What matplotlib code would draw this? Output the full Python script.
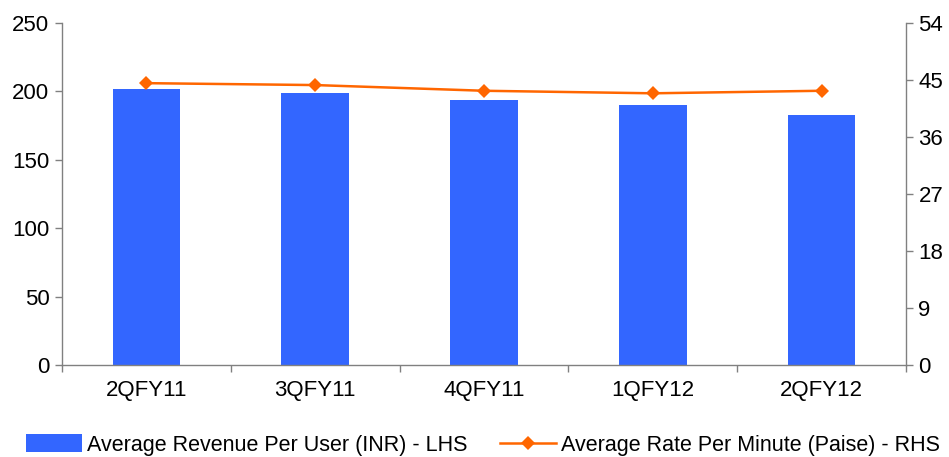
import matplotlib
matplotlib.use("Agg")
import matplotlib.pyplot as plt
import numpy as np

plt.rcParams["font.family"] = ["Liberation Sans", "DejaVu Sans"]

quarters = ["2QFY11", "3QFY11", "4QFY11", "1QFY12", "2QFY12"]
arpu_inr = [202, 199, 194, 190, 183]
rate_paise = [44.5, 44.2, 43.3, 42.9, 43.3]

bar_color = "#3366FF"
line_color = "#FF6600"
axis_color = "#808080"
fs = 16
fs_leg = 15.5

fig = plt.figure(figsize=(9.49, 4.57), dpi=100)
W, H = 949, 457
ax = fig.add_axes([62 / W, (H - 365) / H, (906 - 62) / W, (365 - 23) / H])

x = np.arange(len(quarters))
bars = ax.bar(x, arpu_inr, width=0.40, color=bar_color, zorder=2,
              label="Average Revenue Per User (INR) - LHS")
ax.set_xlim(-0.5, len(quarters) - 0.5)
ax.set_ylim(0, 250)
ax.set_yticks(np.arange(0, 251, 50))
ax.set_xticks(x)
ax.set_xticklabels(quarters, fontsize=fs)
ax.set_xticks(np.arange(-0.5, len(quarters), 1.0), minor=True)
ax.tick_params(axis="x", which="major", length=0, pad=11)
ax.tick_params(axis="x", which="minor", length=5, width=1, color=axis_color, direction="out")
ax.tick_params(axis="y", length=5, width=1, color=axis_color, labelsize=fs, pad=4)

ax2 = ax.twinx()
line, = ax2.plot(x, rate_paise, color=line_color, lw=1.8, marker="D",
                 markersize=7, markeredgewidth=0, zorder=3,
                 label="Average Rate Per Minute (Paise) - RHS")
ax2.set_ylim(0, 54)
ax2.set_yticks(np.arange(0, 55, 9))
ax2.tick_params(axis="y", length=5, width=1, color=axis_color, labelsize=fs, pad=4)

for a in (ax, ax2):
    a.spines["top"].set_visible(False)
    for s in ("left", "right", "bottom"):
        a.spines[s].set_color(axis_color)
        a.spines[s].set_linewidth(1)
ax.spines["right"].set_visible(False)
ax2.spines["left"].set_visible(False)
ax2.spines["bottom"].set_visible(False)

fig.legend([bars, line], [bars.get_label(), line.get_label()],
           loc="center", bbox_to_anchor=(483 / W, 12 / H), ncol=2,
           frameon=False, fontsize=fs_leg, handlelength=2.6, handleheight=0.9,
           handletextpad=0.25, columnspacing=1.5, borderpad=0)

fig.savefig("out.png", dpi=100)
